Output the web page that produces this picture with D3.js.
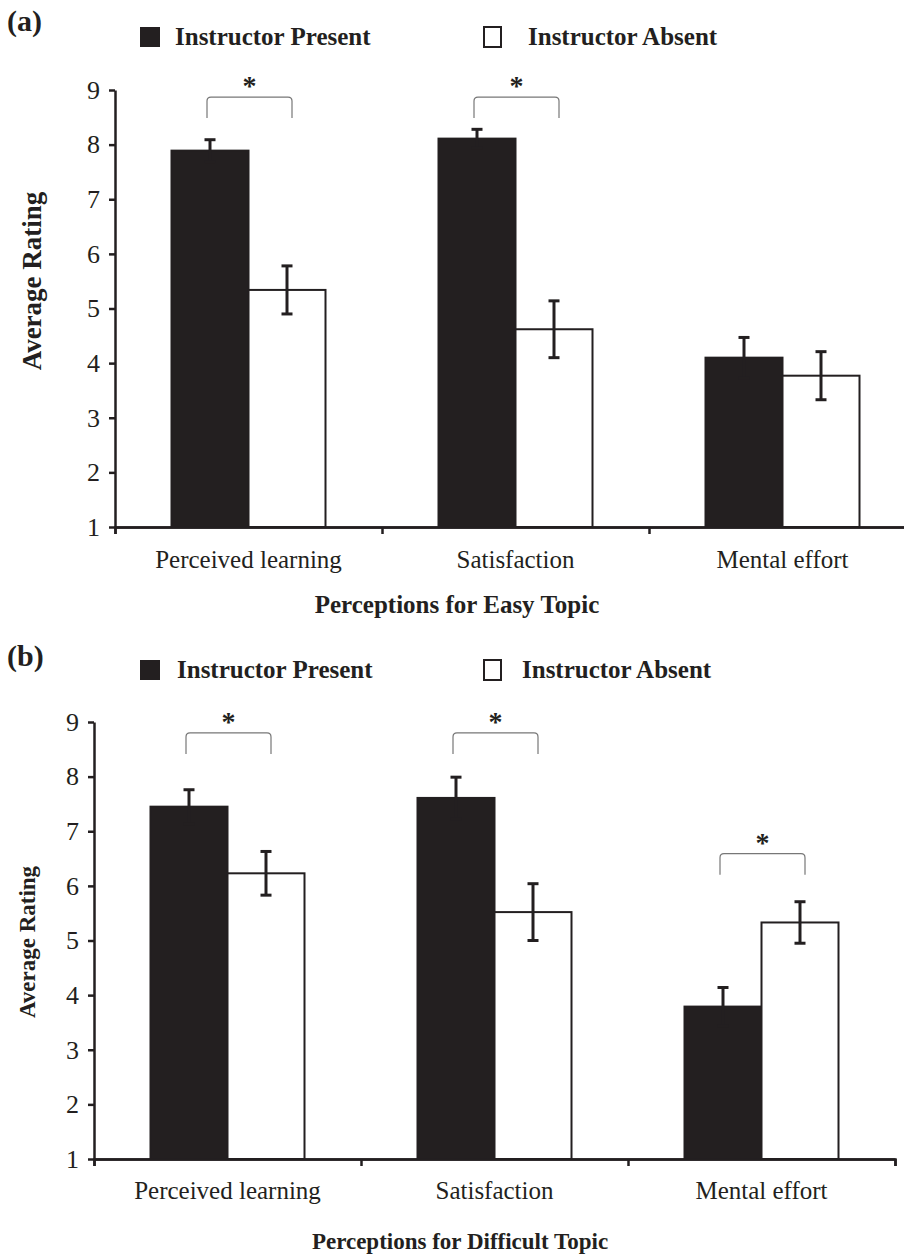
<!DOCTYPE html>
<html>
<head>
<meta charset="utf-8">
<script src="https://cdn.jsdelivr.net/npm/d3@7"></script>
<style>
  body { margin: 0; background: #fff; }
  svg text { font-family: "Liberation Serif", "Times New Roman", serif; fill: #231f20; }
</style>
</head>
<body>
<div id="chart"></div>
<script>
// data
var categories = ["Perceived learning", "Satisfaction", "Mental effort"];
var groups = ["Instructor Present", "Instructor Absent"];
var yTicks = [1, 2, 3, 4, 5, 6, 7, 8, 9];

// (a) easy topic
var easyPresent = [7.89, 8.11, 4.10];
var easyPresentErr = [0.20, 0.17, 0.37];
var easyAbsent = [5.34, 4.62, 3.77];
var easyAbsentErr = [0.44, 0.52, 0.44];
var easySig = [8.87, 8.87, null];   // bracket level, null = no star

// (b) difficult topic
var diffPresent = [7.45, 7.61, 3.79];
var diffPresentErr = [0.31, 0.38, 0.35];
var diffAbsent = [6.23, 5.52, 5.33];
var diffAbsentErr = [0.40, 0.52, 0.38];
var diffSig = [8.80, 8.80, 6.59];

var ink = "#231f20";

var svg = d3.select("#chart")
    .append("svg")
    .attr("width", 904)
    .attr("height", 1258);

function drawPanel(p) {
  var g = svg.append("g");

  var y = d3.scaleLinear()
      .domain([1, 9])
      .range([p.bottom, p.top]);

  var x = d3.scaleBand()
      .domain(categories)
      .range([p.left, p.left + 3 * 267]);

  var xSub = d3.scaleBand()
      .domain(groups)
      .range([0, 154]);
  var off = (x.bandwidth() - 154) / 2;

  var rows = categories.map(function(c, i) {
    return {cat: c, vals: [
      {key: groups[0], v: p.present[i], e: p.presentErr[i]},
      {key: groups[1], v: p.absent[i], e: p.absentErr[i]}
    ], sig: p.sig[i]};
  });

  // bars
  var cat = g.selectAll(".cat")
      .data(rows)
      .enter()
      .append("g")
      .attr("transform", function(d) { return "translate(" + (x(d.cat) + off) + ",0)"; });

  cat.selectAll("rect")
      .data(function(d) { return d.vals; })
      .enter()
      .append("rect")
      .attr("x", function(d) { return xSub(d.key); })
      .attr("y", function(d) { return y(d.v); })
      .attr("width", xSub.bandwidth())
      .attr("height", function(d) { return y(1) - y(d.v); })
      .attr("fill", function(d) { return d.key == groups[0] ? ink : "#fff"; })
      .attr("stroke", ink)
      .attr("stroke-width", 2);

  // error bars
  var eb = cat.selectAll(".err")
      .data(function(d) { return d.vals; })
      .enter()
      .append("g")
      .attr("stroke", ink)
      .attr("stroke-width", 3);
  var cx = function(d) { return xSub(d.key) + xSub.bandwidth() / 2; };
  eb.append("line")
      .attr("x1", cx).attr("x2", cx)
      .attr("y1", function(d) { return y(d.v - d.e); })
      .attr("y2", function(d) { return y(d.v + d.e); });
  eb.append("line")
      .attr("x1", function(d) { return cx(d) - 5.5; })
      .attr("x2", function(d) { return cx(d) + 5.5; })
      .attr("y1", function(d) { return y(d.v + d.e); })
      .attr("y2", function(d) { return y(d.v + d.e); });
  eb.append("line")
      .attr("x1", function(d) { return cx(d) - 5.5; })
      .attr("x2", function(d) { return cx(d) + 5.5; })
      .attr("y1", function(d) { return y(d.v - d.e); })
      .attr("y2", function(d) { return y(d.v - d.e); });

  // significance brackets
  var sig = cat.filter(function(d) { return d.sig != null; });
  sig.append("path")
      .attr("fill", "none")
      .attr("stroke", "#777")
      .attr("stroke-width", 1.2)
      .attr("d", function(d) {
        var x0 = cx(d.vals[0]) - 3, x1 = cx(d.vals[1]) + 5;
        var yt = y(d.sig), yl = yt + 21, r = 4;
        return "M" + x0 + "," + yl + "L" + x0 + "," + (yt + r) +
            "Q" + x0 + "," + yt + " " + (x0 + r) + "," + yt +
            "L" + (x1 - r) + "," + yt +
            "Q" + x1 + "," + yt + " " + x1 + "," + (yt + r) +
            "L" + x1 + "," + yl;
      });
  sig.append("text")
      .attr("x", function(d) { return (cx(d.vals[0]) + cx(d.vals[1])) / 2 + 1; })
      .attr("y", function(d) { return y(d.sig) - 2; })
      .attr("text-anchor", "middle")
      .attr("font-weight", "bold")
      .style("font-size", "28px")
      .text("*");

  // y axis
  var yAxis = g.append("g")
      .attr("transform", "translate(" + p.left + ",0)")
      .call(d3.axisLeft(y).tickValues(yTicks).tickSize(6).tickSizeOuter(0).tickPadding(9));
  yAxis.selectAll("text").style("font-size", "26px").attr("fill", ink);

  // x axis: labels centred in bands, ticks at the band edges
  var xAxis = g.append("g")
      .attr("transform", "translate(0," + p.bottom + ")")
      .call(d3.axisBottom(x).tickSize(0).tickPadding(p.labPad));
  xAxis.selectAll("text").style("font-size", "25px").attr("fill", ink);
  var edge = d3.scaleLinear().domain([0, 3]).range(x.range());
  g.append("g")
      .attr("transform", "translate(0," + p.bottom + ")")
      .call(d3.axisBottom(edge).tickValues([0, 1, 2, 3]).tickSize(7).tickFormat(""));
  svg.selectAll(".domain, .tick line").attr("stroke", ink).attr("stroke-width", 2.5);

  // titles
  g.append("text")
      .attr("transform", "translate(" + p.yTitleX + "," + p.yTitleY + ") rotate(-90)")
      .attr("text-anchor", "middle")
      .attr("font-weight", "bold")
      .style("font-size", p.yTitleSize)
      .text("Average Rating");
  g.append("text")
      .attr("x", p.xTitleX)
      .attr("y", p.xTitleY)
      .attr("text-anchor", "middle")
      .attr("font-weight", "bold")
      .style("font-size", p.xTitleSize)
      .text(p.xTitle);
  g.append("text")
      .attr("x", 7)
      .attr("y", p.tagY)
      .attr("font-weight", "bold")
      .style("font-size", "30px")
      .text(p.tag);

  // legend
  var leg = g.selectAll(".leg")
      .data(groups)
      .enter()
      .append("g")
      .attr("transform", function(d, i) { return "translate(" + p.legX[i] + "," + p.legY + ")"; });
  leg.append("rect")
      .attr("x", 1).attr("y", -18)
      .attr("width", function(d, i) { return i == 0 ? 20 : 17; })
      .attr("height", 20)
      .attr("fill", function(d, i) { return i == 0 ? ink : "#fff"; })
      .attr("stroke", ink)
      .attr("stroke-width", function(d, i) { return i == 0 ? 0 : 2; });
  leg.append("text")
      .attr("x", function(d, i) { return p.legTextDx[i]; })
      .attr("y", 0)
      .attr("font-weight", "bold")
      .style("font-size", "25px")
      .text(function(d) { return d; });
}

drawPanel({
  top: 90, bottom: 527, left: 115,
  present: easyPresent, presentErr: easyPresentErr,
  absent: easyAbsent, absentErr: easyAbsentErr, sig: easySig,
  labPad: 23, tag: "(a)", tagY: 31,
  legX: [139, 483], legY: 45, legTextDx: [36, 45],
  yTitleX: 41, yTitleY: 281, yTitleSize: "27px",
  xTitle: "Perceptions for Easy Topic", xTitleX: 457, xTitleY: 613, xTitleSize: "25px"
});

drawPanel({
  top: 722, bottom: 1159, left: 94,
  present: diffPresent, presentErr: diffPresentErr,
  absent: diffAbsent, absentErr: diffAbsentErr, sig: diffSig,
  labPad: 22, tag: "(b)", tagY: 666,
  legX: [139, 483], legY: 678, legTextDx: [38, 39],
  yTitleX: 35, yTitleY: 942, yTitleSize: "23px",
  xTitle: "Perceptions for Difficult Topic", xTitleX: 460, xTitleY: 1249, xTitleSize: "23px"
});
</script>
</body>
</html>
